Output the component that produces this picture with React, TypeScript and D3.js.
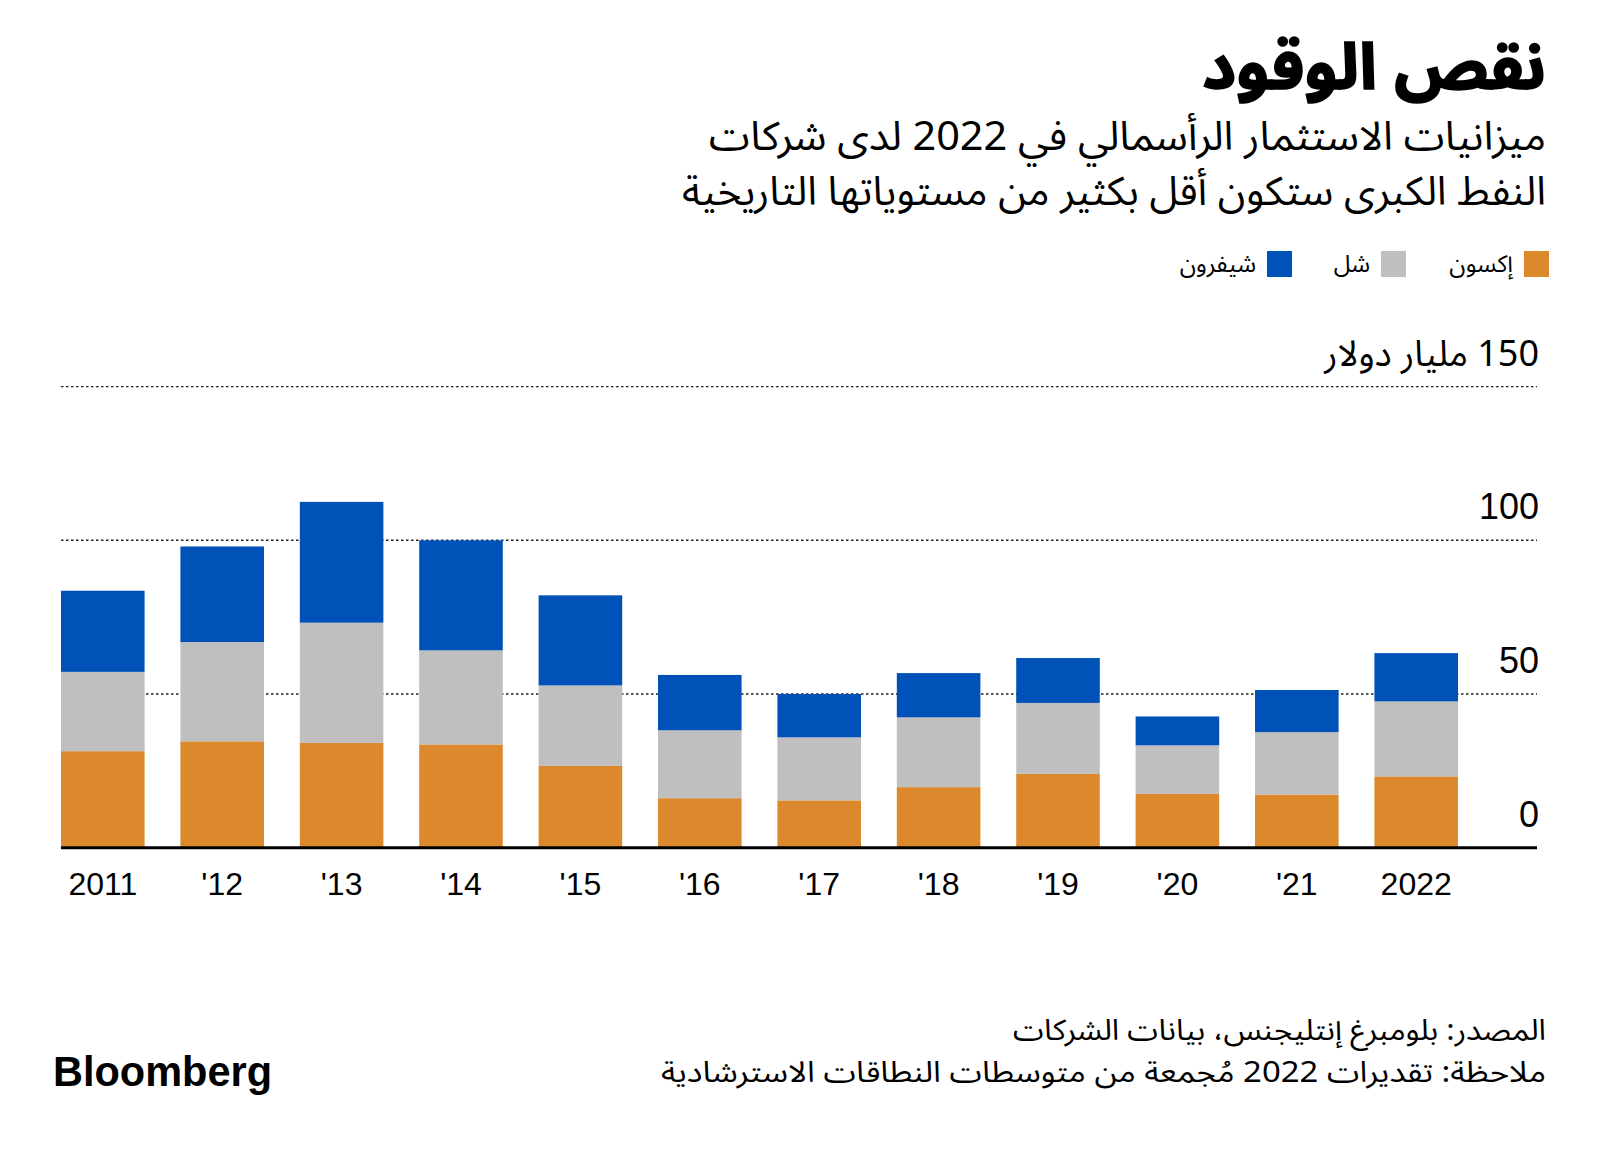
import React from "react";
import * as d3 from "d3";

const years = ["2011", "'12", "'13", "'14", "'15", "'16", "'17", "'18", "'19", "'20", "'21", "2022"];
const exxon = [31.4, 34.6, 34.1, 33.6, 26.6, 16.1, 15.4, 19.7, 24.0, 17.5, 17.3, 23.2];
const shell = [25.8, 32.3, 39.1, 30.6, 26.2, 22.1, 20.5, 22.7, 23.1, 15.8, 20.3, 24.4];
const chevron = [26.4, 31.1, 39.3, 35.8, 29.3, 18.0, 14.1, 14.4, 14.6, 9.4, 13.7, 15.7];

const seriesKeys = ["exxon", "shell", "chevron"];
const seriesNames = ["إكسون", "شل", "شيفرون"];
const seriesColors = ["#db892c", "#bfbfbf", "#0052b9"];

const yTicks = [0, 50, 100, 150];
const yUnit = "مليار دولار";

const title = "نقص الوقود";
const subtitle1 = "ميزانيات الاستثمار الرأسمالي في 2022 لدى شركات";
const subtitle2 = "النفط الكبرى ستكون أقل بكثير من مستوياتها التاريخية";
const source1 = "المصدر: بلومبرغ إنتليجنس، بيانات الشركات";
const source2 = "ملاحظة: تقديرات 2022 مُجمعة من متوسطات النطاقات الاسترشادية";

const W = 1600;
const H = 1153;
const arabicFont = "'Noto Sans Arabic', 'Noto Kufi Arabic', 'DejaVu Sans', sans-serif";
const latinFont = "'Liberation Sans', Arial, sans-serif";

export default function App() {
  const rows = years.map((y, i) => ({ year: y, exxon: exxon[i], shell: shell[i], chevron: chevron[i] }));
  const stack = d3.stack<any>().keys(seriesKeys);
  const stacked = stack(rows);

  const x = d3.scaleBand<string>().domain(years).range([61, 1458]).paddingInner(0.3).paddingOuter(0).align(0);
  const y = d3.scaleLinear().domain([0, 150]).range([847.7, 386.6]);

  const gridLeft = 61;
  const gridRight = 1537;
  const rightEdge = 1546;

  const legendX = [1549, 1406, 1292];

  return (
    <svg width={W} height={H} style={{ position: "absolute", left: 0, top: 0, background: "#fff" }}>
      <rect x={0} y={0} width={W} height={H} fill="#fff" />
      {/* Title */}
      <text x={rightEdge} y={89} direction="rtl" textAnchor="start" fontFamily={arabicFont} fontWeight={700} fontSize={64}
        stroke="#000" strokeWidth={1.6} textLength={344} lengthAdjust="spacingAndGlyphs" fill="#000">
        {title}
      </text>
      <text x={rightEdge} y={150} direction="rtl" textAnchor="start" fontFamily={arabicFont} fontSize={40}
        textLength={837} lengthAdjust="spacingAndGlyphs" fill="#000">
        {subtitle1}
      </text>
      <text x={rightEdge} y={205} direction="rtl" textAnchor="start" fontFamily={arabicFont} fontSize={40}
        textLength={864} lengthAdjust="spacingAndGlyphs" fill="#000">
        {subtitle2}
      </text>

      {/* Legend */}
      {seriesNames.map((name, i) => (
        <g key={name}>
          <rect x={legendX[i] - 25} y={251} width={25} height={26} fill={seriesColors[i]} />
          <text x={legendX[i] - 36} y={272} direction="rtl" textAnchor="start" fontFamily={arabicFont} fontSize={24} fill="#000">
            {name}
          </text>
        </g>
      ))}

      {/* Gridlines */}
      {yTicks.filter((t) => t > 0).map((t) => (
        <line key={t} x1={gridLeft} x2={gridRight} y1={y(t)} y2={y(t)} stroke="#222" strokeWidth={1.4} strokeDasharray="2.5,2.5" />
      ))}

      {/* Bars */}
      {stacked.map((s, si) => (
        <g key={s.key} fill={seriesColors[si]}>
          {s.map((d, i) => (
            <rect key={i} x={x(years[i])} y={y(d[1])} width={x.bandwidth()} height={y(d[0]) - y(d[1])} />
          ))}
        </g>
      ))}

      {/* Baseline */}
      <line x1={gridLeft} x2={gridRight} y1={y(0)} y2={y(0)} stroke="#000" strokeWidth={3} />

      {/* Y labels */}
      {yTicks.map((t) => (
        <text key={t} x={1539} y={y(t) - 21} direction="rtl" textAnchor="start" fontFamily={t === 150 ? arabicFont : latinFont} fontSize={36} fill="#000">
          {t === 150 ? `${t} ${yUnit}` : String(t)}
        </text>
      ))}

      {/* X labels */}
      {years.map((yr) => (
        <text key={yr} x={(x(yr) as number) + x.bandwidth() / 2} y={895} textAnchor="middle" fontFamily={latinFont} fontSize={32} fill="#000">
          {yr}
        </text>
      ))}

      {/* Footer */}
      <text x={rightEdge} y={1040} direction="rtl" textAnchor="start" fontFamily={arabicFont} fontSize={29}
        textLength={533} lengthAdjust="spacingAndGlyphs" fill="#000">
        {source1}
      </text>
      <text x={rightEdge} y={1082} direction="rtl" textAnchor="start" fontFamily={arabicFont} fontSize={29}
        textLength={885} lengthAdjust="spacingAndGlyphs" fill="#000">
        {source2}
      </text>
      <text x={53} y={1086} fontFamily={latinFont} fontWeight={700} fontSize={42} textLength={219} lengthAdjust="spacingAndGlyphs" fill="#000">
        Bloomberg
      </text>
    </svg>
  );
}
